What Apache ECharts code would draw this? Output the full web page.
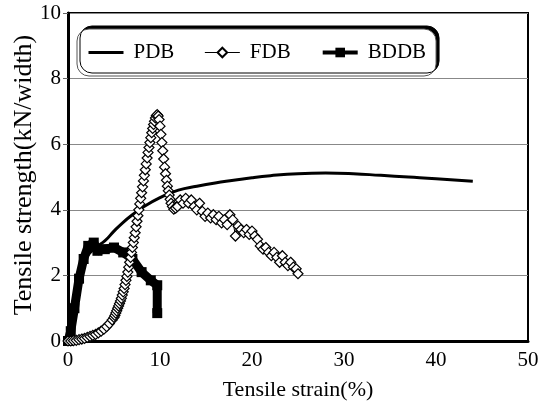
<!DOCTYPE html>
<html>
<head>
<meta charset="utf-8">
<script src="https://cdn.jsdelivr.net/npm/echarts@6/dist/echarts.min.js"></script>
<style>
  html, body { margin: 0; padding: 0; background: #fff; }
  #chart { width: 543px; height: 403px; }
</style>
</head>
<body>
<div id="chart"></div>
<script>
// PDB - smooth curve (lower part hidden under BDDB)
const pdbData = [
  [0, 0], [0.5, 0.7], [1, 1.6], [1.5, 2.2], [2, 2.55], [3, 2.85], [4, 3.05], [5, 3.35],
  [6, 3.62], [7, 3.85], [8, 4.05], [10, 4.37], [12, 4.6], [14, 4.72], [16, 4.82],
  [18, 4.9], [20, 4.98], [22, 5.04], [25, 5.1], [28, 5.12], [31, 5.1], [34, 5.05],
  [37, 5.0], [40, 4.95], [44, 4.87]
]

// FDB - diamonds
const fdbData = [
  [0, 0], [0.3, 0.0], [0.6, 0.01], [0.9, 0.02], [1.2, 0.04], [1.5, 0.06], [1.8, 0.08],
  [2.1, 0.11], [2.4, 0.14], [2.7, 0.17], [3.0, 0.2], [3.3, 0.25], [3.6, 0.3], [3.9, 0.36],
  [4.2, 0.44], [4.5, 0.53], [4.8, 0.64], [5.0, 0.72], [5.1, 0.78], [5.2, 0.85], [5.3, 0.92],
  [5.4, 1.0], [5.5, 1.07], [5.6, 1.14], [5.7, 1.22], [5.8, 1.3], [5.9, 1.4], [6.0, 1.5],
  [6.1, 1.6], [6.2, 1.72], [6.3, 1.85], [6.4, 1.97], [6.5, 2.1], [6.6, 2.25], [6.7, 2.4],
  [6.8, 2.55], [6.9, 2.7], [7.0, 2.85], [7.1, 3.0], [7.2, 3.15], [7.3, 3.3], [7.4, 3.48],
  [7.5, 3.65], [7.6, 3.82], [7.7, 4.0], [7.8, 4.18], [7.9, 4.35], [8.0, 4.52], [8.1, 4.7],
  [8.2, 4.88], [8.3, 5.05], [8.4, 5.22], [8.5, 5.4], [8.6, 5.58], [8.7, 5.75], [8.8, 5.9],
  [8.9, 6.05], [9.0, 6.2], [9.1, 6.35], [9.2, 6.48], [9.3, 6.6], [9.4, 6.7], [9.5, 6.8],
  [9.6, 6.87], [9.7, 6.9], [9.8, 6.86], [9.9, 6.75], [10.0, 6.55], [10.1, 6.3], [10.2, 6.05],
  [10.3, 5.8], [10.4, 5.55], [10.5, 5.3], [10.6, 5.1], [10.7, 4.9], [10.8, 4.72], [10.9, 4.58],
  [11.0, 4.45], [11.1, 4.32], [11.2, 4.2], [11.35, 4.1], [11.5, 4.02], [11.7, 4.05],
  [11.9, 4.1], [12.2, 4.3], [12.5, 4.2], [12.8, 4.35], [13.1, 4.2], [13.4, 4.3], [13.7, 4.1],
  [14.0, 4.0], [14.3, 4.2], [14.6, 3.95], [14.9, 3.8], [15.2, 3.9], [15.5, 3.75], [15.8, 3.85],
  [16.1, 3.7], [16.4, 3.8], [16.7, 3.6], [17.0, 3.7], [17.3, 3.55], [17.6, 3.85], [17.9, 3.7],
  [18.2, 3.2], [18.5, 3.5], [18.8, 3.4], [19.1, 3.3], [19.4, 3.4], [19.7, 3.25], [20.0, 3.35],
  [20.3, 3.2], [20.6, 3.1], [20.9, 2.9], [21.2, 2.8], [21.5, 2.85], [21.8, 2.7], [22.1, 2.6],
  [22.4, 2.7], [22.7, 2.55], [23.0, 2.4], [23.3, 2.6], [23.6, 2.4], [23.9, 2.3], [24.2, 2.4],
  [24.5, 2.25], [24.8, 2.2], [25.0, 2.05]
]

// BDDB - thick line with squares
const bddbData = [
  [0, 0], [0.3, 0.3], [0.7, 1.0], [1.2, 1.9], [1.7, 2.5], [2.2, 2.9], [2.8, 3.0],
  [3.2, 2.75], [4, 2.8], [5, 2.85], [6, 2.7], [7, 2.5], [8, 2.1], [9, 1.85], [9.7, 1.7], [9.7, 0.85]
]

const seriesNames = ['PDB', 'FDB', 'BDDB']
const font = 'Liberation Serif'

let myChart = echarts.init(document.getElementById('chart'))
let option = {
  animation: false,
  grid: {
    left: 68,
    right: 15,
    top: 13,
    bottom: 62,
    containLabel: false,
    outerBoundsMode: 'none',
    show: true,
    borderColor: '#000',
    borderWidth: 2
  },
  legend: {
    left: 77,
    top: 29,
    width: 360,
    height: 44,
    padding: [13, 10, 13, 10],
    itemGap: 30,
    itemWidth: 35,
    itemHeight: 12,
    borderColor: '#555',
    borderWidth: 1,
    borderRadius: 12,
    backgroundColor: '#fff',
    shadowColor: '#000',
    shadowBlur: 0,
    shadowOffsetX: 3,
    shadowOffsetY: -3,
    textStyle: {
      fontFamily: font,
      fontSize: 21,
      color: '#000',
      padding: [0, 0, 0, 5]
    },
    data: [
      { name: 'PDB', lineStyle: { width: 3 }, itemStyle: { opacity: 0 } },
      { name: 'FDB', lineStyle: { width: 1 } },
      { name: 'BDDB', lineStyle: { width: 4 } }
    ]
  },
  xAxis: {
    type: 'value',
    min: 0,
    max: 50,
    interval: 10,
    name: 'Tensile strain(%)',
    nameLocation: 'middle',
    nameGap: 38,
    nameMoveOverlap: false,
    nameTextStyle: { fontFamily: font, fontSize: 22, color: '#000' },
    axisLine: { show: true, lineStyle: { color: '#000', width: 3 } },
    axisTick: { show: false },
    axisLabel: { fontFamily: font, fontSize: 21, color: '#000', margin: 9 },
    splitLine: { show: false }
  },
  yAxis: {
    type: 'value',
    min: 0,
    max: 10,
    interval: 2,
    name: 'Tensile strength(kN/width)',
    nameLocation: 'middle',
    nameGap: 31,
    nameMoveOverlap: false,
    nameTextStyle: { fontFamily: font, fontSize: 26, color: '#000', padding: [0, 0, 0, 4] },
    axisLine: { show: true, lineStyle: { color: '#000', width: 3 } },
    axisTick: { show: true, length: 5, lineStyle: { color: '#666' } },
    axisLabel: { fontFamily: font, fontSize: 21, color: '#000', margin: 7 },
    splitLine: { show: true, lineStyle: { color: '#888', width: 1 } }
  },
  series: [
    {
      name: seriesNames[0],
      type: 'line',
      data: pdbData,
      smooth: true,
      showSymbol: false,
      symbol: 'none',
      color: '#000',
      lineStyle: { color: '#000', width: 3 },
      itemStyle: { opacity: 0 },
      z: 2
    },
    {
      name: seriesNames[2],
      type: 'line',
      data: bddbData,
      symbol: 'rect',
      symbolSize: 10,
      color: '#000',
      lineStyle: { color: '#000', width: 9 },
      itemStyle: { color: '#000' },
      z: 3
    },
    {
      name: seriesNames[1],
      type: 'line',
      data: fdbData,
      symbol: 'diamond',
      symbolSize: 10,
      color: '#000',
      lineStyle: { color: '#000', width: 1 },
      itemStyle: { color: '#fff', borderColor: '#000', borderWidth: 1.2 },
      z: 4
    }
  ]
}
myChart.setOption(option)
</script>
</body>
</html>
